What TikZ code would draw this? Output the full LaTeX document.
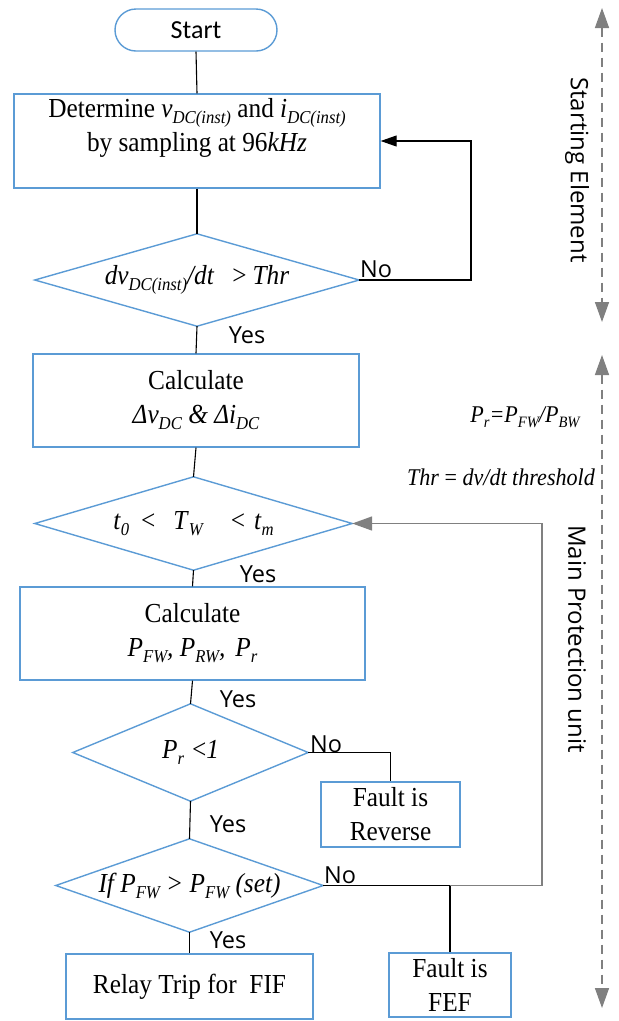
\documentclass[tikz,border=0pt]{standalone}
\usepackage{fontspec}
\usepackage{graphicx}
\setmainfont{Liberation Serif}[FakeStretch=0.92]
\newfontfamily\osans{Open Sans}
\newfontfamily\calib{Carlito}
\usetikzlibrary{arrows.meta,calc}
\definecolor{boxblue}{RGB}{91,155,213}
\definecolor{fbgray}{RGB}{128,128,128}
\newcommand\sbs[1]{\raisebox{-0.22em}{\scalebox{0.66}{\itshape #1}}}
\begin{document}
\begin{tikzpicture}[x=1pt,y=-1pt,
  box/.style={draw=boxblue, line width=1.4pt, inner sep=0pt, align=center,
    font=\fontsize{27.5}{34}\selectfont},
  boxtext/.style={inner sep=0pt, align=center, font=\fontsize{27.5}{34}\selectfont},
  dec/.style={inner sep=0pt, font=\fontsize{27.5}{34}\selectfont},
  decborder/.style={draw=boxblue, line width=1.4pt, line join=miter},
  conn/.style={line width=1.1pt, draw=black},
  fb/.style={line width=1.6pt, draw=fbgray},
  yn/.style={font=\osans\fontsize{23.5}{23.5}\selectfont, anchor=base, inner sep=0pt},
  side/.style={font=\osans\fontsize{24}{24}\selectfont, rotate=-90, inner sep=0pt},
  note/.style={inner sep=0pt, font=\fontsize{24}{24}\selectfont\itshape},
  dasharr/.style={draw=fbgray, line width=1.5pt, dash pattern=on 9pt off 6pt,
    {Triangle[length=20pt,width=14pt]}-{Triangle[length=20pt,width=14pt]}}
]
\useasboundingbox (0,0) rectangle (619,1021);

% nodes
\node[box, minimum width=162pt, minimum height=42pt, rounded corners=21pt,
  font=\calib\fontsize{26}{26}\selectfont] (start) at (196,30) {Start};
\node[box, minimum width=366pt, minimum height=94pt] (box1) at (197,141) {};
\node[boxtext] (box1t) at (197,128) {Determine \textit{v}\sbs{DC(inst)} and \textit{i}\sbs{DC(inst)}\\ by sampling at 96\textit{kHz}};
\node[dec, minimum width=324pt, minimum height=92pt] (d1) at (197,280)
  {\textit{dv}\sbs{DC(inst)}\textit{/dt}\hspace{18pt}>\hspace{6pt}\textit{Thr}};
\node[box, minimum width=326pt, minimum height=93pt] (box2) at (196,400.5)
  {Calculate\\ \textit{Δv}\sbs{DC} \textit{\&} \textit{Δi}\sbs{DC}};
\node[dec, minimum width=317pt, minimum height=93pt] (d2) at (193.5,523.5)
  {\textit{t}\sbs{0}\hspace{12pt}<\hspace{18pt}\textit{T}\sbs{W}\hspace{28pt}<\hspace{9pt}\textit{t}\sbs{m}};
\node[box, minimum width=345pt, minimum height=93pt] (box3) at (192.5,633.5)
  {Calculate\\ \textit{P}\sbs{FW}\textit{,} \textit{P}\sbs{RW}\textit{,}\hspace{10pt}\textit{P}\sbs{r}};
\node[dec, minimum width=235pt, minimum height=97pt] (d3) at (190.5,752.5)
  {\textit{P}\sbs{r}\hspace{8pt}<\textit{1}};
\node[box, minimum width=139pt, minimum height=65pt] (rev) at (390.5,814.5) {Fault is\\Reverse};
\node[dec, minimum width=267pt, minimum height=93pt] (d4) at (189.5,885.5)
  {\textit{If P}\sbs{FW}\textit{ > P}\sbs{FW}\textit{ (set)}};
\node[box, minimum width=122pt, minimum height=64pt] (fef) at (450,985) {Fault is\\FEF};
\node[box, minimum width=247pt, minimum height=65pt] (relay) at (189.5,986.5) {Relay Trip for\ \ FIF};

% diamond outlines
\foreach \n in {d1,d2,d3,d4}
  \draw[decborder] (\n.west) -- (\n.north) -- (\n.east) -- (\n.south) -- cycle;

% main flow
\draw[conn] (start.south) -- (box1.north);
\draw[conn] (box1.south) -- (d1.north);
\draw[conn] (d1.south) -- (box2.north);
\draw[conn] (box2.south) -- (d2.north);
\draw[conn] (d2.south) -- (box3.north);
\draw[conn] (box3.south) -- (d3.north);
\draw[conn] (d3.south) -- (d4.north);
\draw[conn] (d4.south) -- (relay.north);

% branches
\coordinate (fa) at (471,0);
\draw[conn, -{Triangle[length=16pt,width=11pt]}] (d1.east) -- (d1.east -| fa) -- (box1.east -| fa) -- (box1.east);
\draw[conn] (d3.east) -| (rev.north);
\draw[conn] (d4.east) -| (fef.north);
\coordinate (fbc) at (542,0);
\draw[fb, -{Triangle[length=20pt,width=14pt]}] (d4.east -| fef.north) -- (d4.east -| fbc) -- (d2.east -| fbc) -- (d2.east);

% labels
\node[yn] (y1) at (247,343) {Yes};
\node[yn] (y2) at (258,582) {Yes};
\node[yn] (y3) at (238,707) {Yes};
\node[yn] (y4) at (228,832) {Yes};
\node[yn] (y5) at (228,948) {Yes};
\node[yn] (n1) at (376,277) {No};
\node[yn] (n2) at (326,752) {No};
\node[yn] (n3) at (340,883) {No};

% side notes
\node[note] (prdef) at (525,417) {P\sbs{r}=P\sbs{FW}/P\sbs{BW}};
\node[note] (thrdef) at (501,477) {Thr {\upshape =} dv/dt threshold};
\node[side] (se) at (577,170) {Starting Element};
\node[side] (mp) at (577,639) {Main Protection unit};
\coordinate (a1) at (602,8);
\coordinate (a2) at (602,322);
\coordinate (a3) at (602,355);
\coordinate (a4) at (602,1008);
\draw[dasharr] (a1) -- (a2);
\draw[dasharr] (a3) -- (a4);
\end{tikzpicture}
\end{document}
